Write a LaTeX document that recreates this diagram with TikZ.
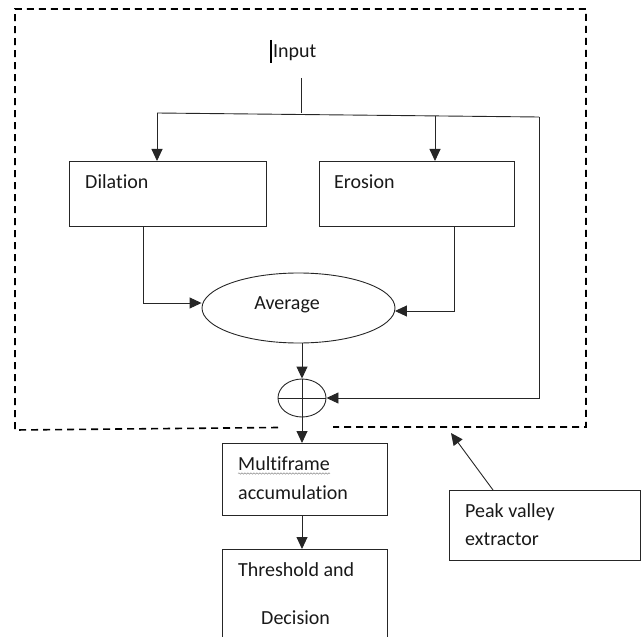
\documentclass[tikz,border=0pt]{standalone}
\usepackage{fontspec}
\setmainfont{Carlito}[Ligatures=NoCommon]
\usetikzlibrary{arrows.meta,shapes.geometric,decorations.pathmorphing}
\begin{document}
\begin{tikzpicture}[x=1pt,y=-1pt,
  box/.style={draw=black!85,line width=0.9pt,inner sep=0pt,anchor=north west},
  lbl/.style={anchor=base west,inner sep=0pt,font=\fontsize{20}{24}\selectfont,text=black!90},
  wire/.style={draw=black!85,line width=0.9pt},
  arr/.style={wire,-{Triangle[length=12pt,width=11pt]}},
  dashbox/.style={draw=black,line width=1.6pt,dash pattern=on 7pt off 5pt}]
\useasboundingbox (0,0) rectangle (644,636);
\clip (0,0) rectangle (644,636);
% outer dashed frame
\draw[dashbox] (278,427.5) -- (15,430) -- (15,9) -- (586,9) -- (586,427) -- (333,427);
% input
\draw[black,line width=1.6pt] (271,40) -- (271,63);
\node[lbl] (input) at (273,58) {Input};
\coordinate (in1) at (301,78);
\coordinate (in2) at (301,113);
\coordinate (hl) at (157,113);
\coordinate (hr) at (539,117);
\coordinate (hm) at (435,115.9);
% boxes
\node[box,minimum width=197,minimum height=65] (dil) at (69,161) {};
\node[lbl] (diltxt) at (85,189) {Dilation};
\node[box,minimum width=195,minimum height=65] (ero) at (319,161) {};
\node[lbl] (erotxt) at (334,189) {Erosion};
\node[ellipse,draw=black!85,line width=0.9pt,minimum width=193,minimum height=70,inner sep=0pt] (avg) at (298.5,308) {};
\node[anchor=base,inner sep=0pt,font=\fontsize{20}{24}\selectfont,text=black!90] (avgtxt) at (287,309) {Average};
\node[ellipse,draw=black!85,line width=0.9pt,minimum width=48,minimum height=38,inner sep=0pt] (sum) at (302,398) {};
\node[box,minimum width=165,minimum height=72] (multi) at (222,443) {};
\node[lbl] (m1) at (238,470) {Multiframe};
\node[lbl] (m2) at (238,499) {accumulation};
\draw[black!45,line width=0.5pt,decorate,decoration={snake,amplitude=0.7pt,segment length=3pt}] ([yshift=-3.5pt]m1.base west) -- ([yshift=-3.5pt]m1.base east);
\node[box,minimum width=165,minimum height=110] (thr) at (222,549) {};
\node[lbl] (t1) at (238,576) {Threshold and};
\node[lbl] (t2) at (261,624) {Decision};
\node[box,minimum width=191,minimum height=70] (pk) at (449,490) {};
\node[lbl] (p1) at (465,517) {Peak valley};
\node[lbl] (p2) at (465,545) {extractor};
% connectors
\draw[wire] (in1) -- (in2);
\draw[wire] (hl) -- (hr);
\draw[arr] (hl) -- (hl |- dil.north);
\draw[arr] (hm) -- (hm |- ero.north);
\coordinate (d1) at (143,226);
\coordinate (d2) at (143,303);
\draw[arr] (d1) -- (d2) -- (avg.west |- d2);
\coordinate (e1) at (454,226);
\coordinate (e2) at (454,311);
\draw[arr] (e1) -- (e2) -- ([xshift=-0.5pt]avg.east |- e2);
\draw[arr] (hr) -- (hr |- sum.east) -- (sum.east);
\draw[arr] (sum.north |- avg.south) -- (sum.north);
\draw[wire] (sum.west) -- (sum.east);
\draw[arr] (sum.north) -- (multi.north -| sum.north);
\draw[arr] (multi.south -| sum.north) -- (thr.north -| sum.north);
\coordinate (pkt) at (451,433);
\draw[arr] ([xshift=44pt]pk.north west) -- (pkt);
\end{tikzpicture}
\end{document}
